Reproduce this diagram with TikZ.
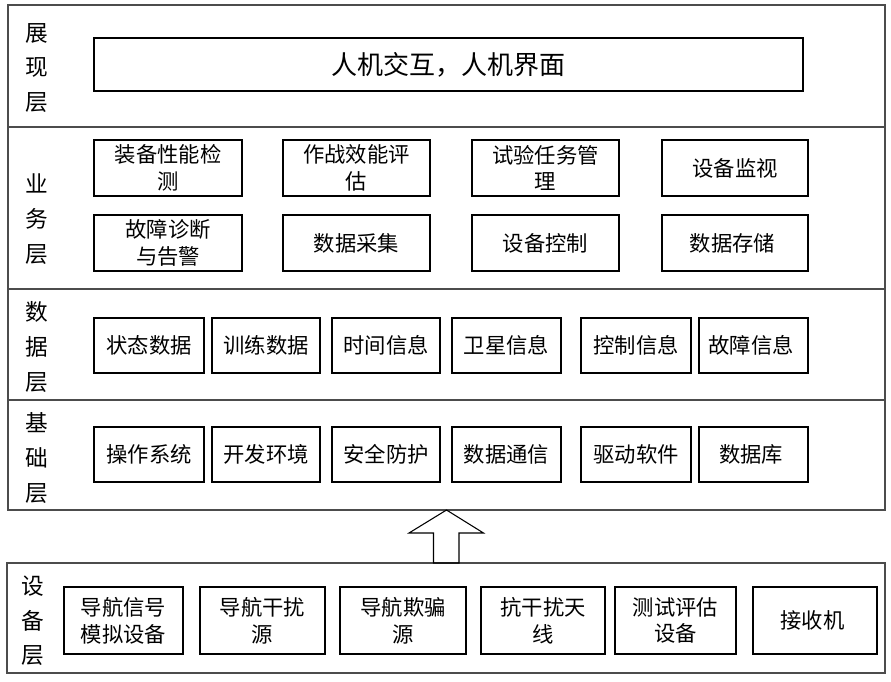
\documentclass[tikz,border=0pt]{standalone}
\usepackage{fontspec}
\newfontfamily\cjk{Noto Sans CJK SC}
\usepackage{tikz}
\usetikzlibrary{calc}
\tikzset{
  layer/.style={draw=black!70, line width=0.8pt, inner sep=0pt, outer sep=0pt},
  unit/.style={draw, line width=1.3pt, align=center, inner sep=0pt,
    font=\cjk\fontsize{16}{20}\selectfont},
  tag/.style={align=center, inner sep=0pt, font=\cjk\fontsize{17}{26}\selectfont},
  hollow/.style={draw, line width=0.8pt, line join=miter}
}
% a box given by its left, right, top and bottom edge (in pixels)
\newcommand{\cell}[7][unit]{%
  \node[#1, minimum width={(#4-#3)*\pix}, minimum height={(#6-#5)*\pix}]
    (#2) at ({(#3+#4)/2},{(#5+#6)/2}) {#7};%
}

\begin{document}
\begin{tikzpicture}[x=0.75pt, y=-0.75pt]

  % one pixel of the reference
  \def\pix{0.75pt}

  \useasboundingbox (0,0) rectangle (891,681);

  % layers
  \cell[layer]{show}{8}{885}{5}{127}{}
  \cell[layer]{biz}{8}{885}{127}{289}{}
  \cell[layer]{data}{8}{885}{289}{400}{}
  \cell[layer]{base}{8}{885}{400}{510}{}
  \cell[layer]{dev}{7}{885}{563}{673}{}

  % layer names
  \node[tag] (showtag) at (37,68) {展\\现\\层};
  \node[tag] (biztag) at (37,219) {业\\务\\层};
  \node[tag] (datatag) at (37,347) {数\\据\\层};
  \node[tag] (basetag) at (37,458) {基\\础\\层};
  \node[tag] (devtag) at (33,621) {设\\备\\层};

  % presentation layer
  \cell[unit, font=\cjk\fontsize{19.5}{24}\selectfont]{hmi}{94}{803}{38}{91}{人机交互，人机界面}

  % business layer
  \foreach \nm/\xa/\xb/\ya/\yb/\txt in {
    test/94/242/140/196/{装备性能检\\测},
    eval/283/430/140/196/{作战效能评\\估},
    task/472/619/140/196/{试验任务管\\理},
    watch/662/808/140/196/{设备监视},
    fault/94/242/215/271/{故障诊断\\与告警},
    acq/283/430/215/271/{数据采集},
    ctrl/472/619/215/271/{设备控制},
    store/662/808/215/271/{数据存储}
  }{
    \cell{\nm}{\xa}{\xb}{\ya}{\yb}{\txt}
  }

  % data layer
  \foreach \nm/\xa/\xb/\txt in {
    state/94/204/状态数据,
    train/212/320/训练数据,
    time/332/440/时间信息,
    sat/452/561/卫星信息,
    ctrlinfo/581/691/控制信息,
    faultinfo/699/808/故障信息
  }{
    \cell{\nm}{\xa}{\xb}{318}{373}{\txt}
  }

  % base layer
  \foreach \nm/\xa/\xb/\txt in {
    os/94/204/操作系统,
    env/212/320/开发环境,
    sec/332/440/安全防护,
    comm/452/561/数据通信,
    drv/581/691/驱动软件,
    db/699/808/数据库
  }{
    \cell{\nm}{\xa}{\xb}{427}{482}{\txt}
  }

  % device layer
  \foreach \nm/\xa/\xb/\txt in {
    sim/64/183/{导航信号\\模拟设备},
    jam/200/325/{导航干扰\\源},
    spoof/340/466/{导航欺骗\\源},
    ant/481/605/{抗干扰天\\线},
    tester/615/736/{测试评估\\设备},
    rx/753/877/{接收机}
  }{
    \cell{\nm}{\xa}{\xb}{587}{654}{\txt}
  }

  % hollow arrow from the device layer up to the base layer
  \draw[hollow] (base.south) -- ++(37,23) -- ++(-24.5,0)
    |- ($(dev.north)+(-12.5,0)$) -- ++(0,-30) -- ++(-24.5,0) -- cycle;

\end{tikzpicture}
\end{document}
